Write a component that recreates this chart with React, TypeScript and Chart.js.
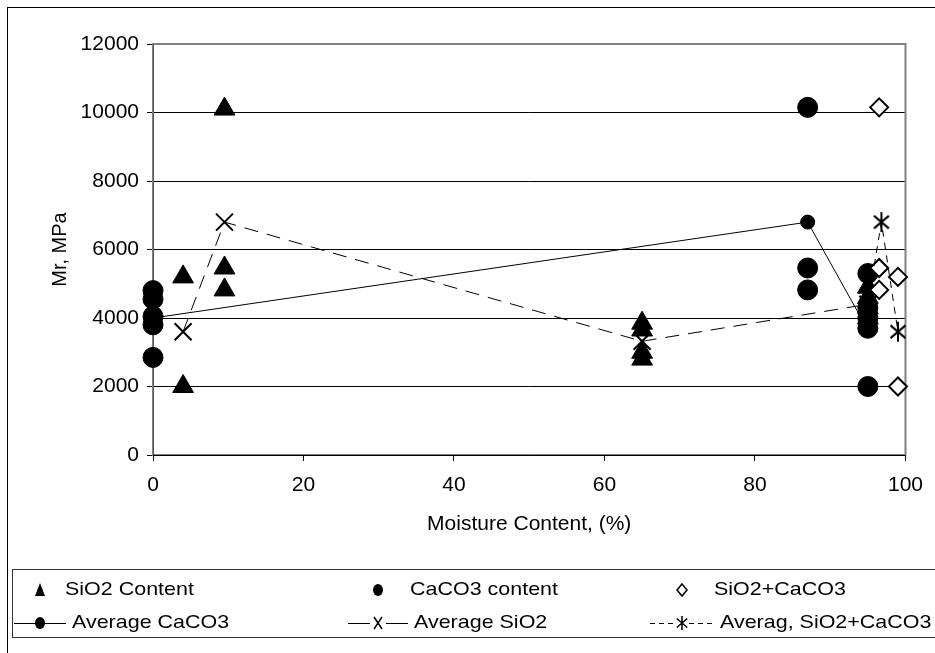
import React, { useEffect, useRef } from 'react';
import { Chart, registerables } from 'chart.js';
Chart.register(...registerables);

// ---- data ----
const sio2X = [9.5, 4, 9.5, 9.5, 4, 65, 65, 65, 65, 95, 95, 95, 95];
const sio2Y = [10100, 5200, 5460, 4820, 2000, 3850, 3650, 3000, 2800, 4900, 4600, 4300, 4000];

const cacoX = [0, 0, 0, 0, 0, 87, 87, 87, 95, 95, 95, 95, 95];
const cacoY = [4800, 4550, 4050, 3800, 2850, 10150, 5460, 4820, 5300, 4300, 4000, 3700, 2000];

const mixX = [96.5, 96.5, 99, 96.5, 99];
const mixY = [10150, 5460, 5200, 4820, 2000];

const avgCaX = [0, 87, 95];
const avgCaY = [4000, 6800, 3650];

const avgSiX = [4, 9.5, 65, 95];
const avgSiY = [3600, 6800, 3320, 4400];

const avgMixX = [95, 96.8, 99];
const avgMixY = [4400, 6800, 3600];

const xTicks = [0, 20, 40, 60, 80, 100];
const yTicks = [0, 2000, 4000, 6000, 8000, 10000, 12000];

const seriesNames = [
  'SiO2 Content',
  'CaCO3 content',
  'SiO2+CaCO3',
  'Average CaCO3',
  'Average SiO2',
  'Averag, SiO2+CaCO3',
];

const FONT = '"Liberation Sans", Arial, sans-serif';

const pts = (xs: number[], ys: number[]) => xs.map((x, i) => ({ x, y: ys[i] }));

function makeAsterisk(size: number, lw: number) {
  const c = document.createElement('canvas');
  c.width = size;
  c.height = size;
  const g = c.getContext('2d')!;
  g.strokeStyle = '#000';
  g.lineWidth = lw;
  const m = size / 2;
  const h = size / 2 - 1;
  const d = h * 0.75;
  g.beginPath();
  g.moveTo(m, m - h);
  g.lineTo(m, m + h);
  g.moveTo(m - d, m - d * 0.85);
  g.lineTo(m + d, m + d * 0.85);
  g.moveTo(m + d, m - d * 0.85);
  g.lineTo(m - d, m + d * 0.85);
  g.stroke();
  return c;
}

export default function App() {
  const ref = useRef<HTMLCanvasElement>(null);

  useEffect(() => {
    const canvas = ref.current!;
    const star = makeAsterisk(22, 2);
    const starSmall = makeAsterisk(16, 1.5);

    const stretchedText = (ctx: any, text: string, x: number, y: number) => {
      ctx.save();
      ctx.translate(x, y);
      ctx.scale(1.13, 1);
      ctx.fillText(text, 0, 0);
      ctx.restore();
    };

    const framePlugin = {
      id: 'frame',
      beforeDraw(chart: any) {
        const { ctx, width, height } = chart;
        ctx.save();
        ctx.fillStyle = '#fff';
        ctx.fillRect(0, 0, width, height);
        ctx.restore();
      },
      beforeDatasetsDraw(chart: any) {
        const { ctx, chartArea: a } = chart;
        ctx.save();
        ctx.strokeStyle = '#808080';
        ctx.lineWidth = 2;
        ctx.strokeRect(a.left, a.top, a.right - a.left, a.bottom - a.top);
        ctx.strokeStyle = '#000';
        ctx.lineWidth = 1;
        ctx.beginPath();
        ctx.moveTo(a.left, Math.round(a.bottom) + 0.5);
        ctx.lineTo(a.right, Math.round(a.bottom) + 0.5);
        ctx.stroke();
        ctx.strokeStyle = '#555';
        ctx.beginPath();
        ctx.moveTo(Math.round(a.left) + 0.5, a.top);
        ctx.lineTo(Math.round(a.left) + 0.5, a.bottom);
        ctx.stroke();
        ctx.restore();
      },
      afterDraw(chart: any) {
        const { ctx } = chart;
        ctx.save();
        // outer chart border
        ctx.strokeStyle = '#000';
        ctx.lineWidth = 1;
        ctx.strokeRect(7.5, 7.5, 1000, 1000);
        // legend box
        ctx.strokeStyle = '#333';
        ctx.strokeRect(12.5, 569.5, 1000, 68);

        const r1 = 590;
        const r2 = 623;
        const c1 = 40;
        const c2 = 378;
        const c3 = 682;
        ctx.fillStyle = '#000';
        ctx.strokeStyle = '#000';
        // triangle
        ctx.beginPath();
        ctx.moveTo(c1, r1 - 7);
        ctx.lineTo(c1 + 5, r1 + 6);
        ctx.lineTo(c1 - 5, r1 + 6);
        ctx.closePath();
        ctx.fill();
        // circle
        ctx.beginPath();
        ctx.ellipse(c2, r1, 5, 6, 0, 0, Math.PI * 2);
        ctx.fill();
        // diamond
        ctx.lineWidth = 1.5;
        ctx.beginPath();
        ctx.moveTo(c3, r1 - 6);
        ctx.lineTo(c3 + 5, r1);
        ctx.lineTo(c3, r1 + 6);
        ctx.lineTo(c3 - 5, r1);
        ctx.closePath();
        ctx.stroke();

        // row 2: avg CaCO3
        ctx.lineWidth = 1;
        ctx.beginPath();
        ctx.moveTo(14, r2 + 0.5);
        ctx.lineTo(c1 + 26, r2 + 0.5);
        ctx.stroke();
        ctx.beginPath();
        ctx.ellipse(c1, r2, 5, 6, 0, 0, Math.PI * 2);
        ctx.fill();
        // avg SiO2
        ctx.beginPath();
        ctx.moveTo(c2 - 30, r2 + 0.5);
        ctx.lineTo(c2 - 8, r2 + 0.5);
        ctx.moveTo(c2 + 8, r2 + 0.5);
        ctx.lineTo(c2 + 30, r2 + 0.5);
        ctx.stroke();
        ctx.lineWidth = 1.5;
        ctx.beginPath();
        ctx.moveTo(c2 - 4, r2 - 6);
        ctx.lineTo(c2 + 4, r2 + 6);
        ctx.moveTo(c2 + 4, r2 - 6);
        ctx.lineTo(c2 - 4, r2 + 6);
        ctx.stroke();
        // avg mix
        ctx.lineWidth = 1;
        ctx.setLineDash([5, 4]);
        ctx.beginPath();
        ctx.moveTo(c3 - 32, r2 + 0.5);
        ctx.lineTo(c3 - 7, r2 + 0.5);
        ctx.moveTo(c3 + 7, r2 + 0.5);
        ctx.lineTo(c3 + 34, r2 + 0.5);
        ctx.stroke();
        ctx.setLineDash([]);
        ctx.drawImage(starSmall, c3 - 8, r2 - 8);

        // texts
        ctx.font = `19px ${FONT}`;
        ctx.textBaseline = 'middle';
        ctx.textAlign = 'left';
        stretchedText(ctx, seriesNames[0], c1 + 25, r1);
        stretchedText(ctx, seriesNames[1], c2 + 32, r1);
        stretchedText(ctx, seriesNames[2], c3 + 32, r1);
        stretchedText(ctx, seriesNames[3], c1 + 32, r2);
        stretchedText(ctx, seriesNames[4], c2 + 36, r2);
        stretchedText(ctx, seriesNames[5], c3 + 38, r2);
        ctx.restore();
      },
    };

    const chart = new Chart(canvas, {
      type: 'scatter',
      data: {
        datasets: [
          {
            label: seriesNames[0],
            data: pts(sio2X, sio2Y),
            pointStyle: 'triangle',
            pointRadius: 12,
            backgroundColor: '#000',
            borderColor: '#000',
            borderWidth: 1,
            showLine: false,
            order: 6,
          },
          {
            label: seriesNames[1],
            data: pts(cacoX, cacoY),
            pointStyle: 'circle',
            pointRadius: 10,
            backgroundColor: '#000',
            borderColor: '#000',
            borderWidth: 1,
            showLine: false,
            order: 5,
          },
          {
            label: seriesNames[2],
            data: pts(mixX, mixY),
            pointStyle: 'rectRot',
            pointRadius: 9,
            backgroundColor: '#fff',
            borderColor: '#000',
            borderWidth: 2,
            showLine: false,
            order: 4,
          },
          {
            label: seriesNames[3],
            data: pts(avgCaX, avgCaY),
            pointStyle: 'circle',
            pointRadius: 7,
            backgroundColor: '#000',
            borderColor: '#000',
            pointBorderWidth: 1,
            borderWidth: 1,
            showLine: true,
            order: 3,
          },
          {
            label: seriesNames[4],
            data: pts(avgSiX, avgSiY),
            pointStyle: 'crossRot',
            pointRadius: 12,
            backgroundColor: '#000',
            borderColor: '#000',
            pointBorderWidth: 2,
            borderWidth: 1,
            borderDash: [14, 9],
            showLine: true,
            order: 2,
          },
          {
            label: seriesNames[5],
            data: pts(avgMixX, avgMixY),
            pointStyle: star as any,
            pointRadius: 11,
            backgroundColor: '#000',
            borderColor: '#000',
            borderWidth: 1,
            borderDash: [7, 6],
            showLine: true,
            order: 1,
          },
        ] as any,
      },
      options: {
        animation: false,
        responsive: false,
        devicePixelRatio: 1,
        clip: false as any,
        layout: { padding: { left: 0, top: 44, right: 29, bottom: 108 } },
        plugins: {
          legend: { display: false },
          tooltip: { enabled: false },
        },
        elements: { line: { tension: 0 } },
        scales: {
          x: {
            type: 'linear',
            min: 0,
            max: 100,
            afterBuildTicks: (s: any) => {
              s.ticks = xTicks.map((v) => ({ value: v }));
            },
            afterFit: (s: any) => {
              s.height = 90;
            },
            grid: {
              drawOnChartArea: false,
              drawTicks: true,
              tickLength: 6,
              color: '#000',
            },
            border: { display: false },
            ticks: {
              color: '#000',
              font: { family: FONT, size: 21 },
              padding: 12,
              maxRotation: 0,
              callback: (v: any) => String(v),
            },
            title: {
              display: true,
              text: 'Moisture Content, (%)',
              color: '#000',
              font: { family: FONT, size: 21 },
              padding: { top: 0, bottom: 8 },
            },
          },
          y: {
            type: 'linear',
            min: 0,
            max: 12000,
            afterBuildTicks: (s: any) => {
              s.ticks = yTicks.map((v) => ({ value: v }));
            },
            afterFit: (s: any) => {
              s.width = 153;
            },
            grid: {
              drawOnChartArea: true,
              drawTicks: true,
              tickLength: 6,
              color: '#000',
              lineWidth: 1,
            },
            border: { display: false },
            ticks: {
              color: '#000',
              font: { family: FONT, size: 21 },
              padding: 8,
              callback: (v: any) => String(v),
            },
            title: {
              display: true,
              text: 'Mr, MPa',
              color: '#000',
              font: { family: FONT, size: 20 },
              padding: { top: 48, bottom: 0 },
            },
          },
        },
      } as any,
      plugins: [framePlugin],
    });
    return () => chart.destroy();
  }, []);

  return (
    <div style={{ position: 'absolute', left: 0, top: 0, width: 935, height: 653, overflow: 'hidden' }}>
      <canvas ref={ref} width={935} height={653} style={{ width: 935, height: 653, display: 'block' }} />
    </div>
  );
}
